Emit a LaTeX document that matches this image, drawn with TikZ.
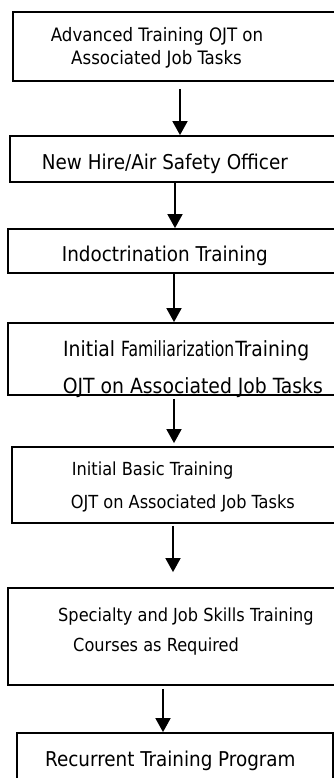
\documentclass[tikz,border=0pt]{standalone}
\usepackage{fontspec}
\setmainfont{DejaVu Sans Condensed}
\usepackage{graphicx}
\usetikzlibrary{arrows.meta}

\tikzset{
  stagebox/.style={draw, rectangle, line width=1.8pt, inner sep=0pt},
  flow/.style={line width=1.8pt, -{Triangle[length=14pt,width=15pt]}},
  txt/.style={anchor=base west, inner sep=0pt},
  bigtxt/.style={txt, font=\fontsize{20.4}{24}\selectfont},
  smalltxt/.style={txt, font=\fontsize{18}{21}\selectfont}
}

\begin{document}
\begin{tikzpicture}[x=1pt,y=-1pt]
\useasboundingbox (0,0) rectangle (334,778);
\clip (0,0) rectangle (334,778);

% boxes run off the right edge of the page
\node [stagebox, minimum width=327, minimum height=69] (sys1) at (176.5,46.5) {};
\node [stagebox, minimum width=330, minimum height=46] (sys2) at (175,159) {};
\node [stagebox, minimum width=332, minimum height=44] (sys3) at (174,251) {};
\node [stagebox, minimum width=332, minimum height=72] (sys4) at (174,359) {};
\node [stagebox, minimum width=328, minimum height=76] (sys5) at (176,485) {};
\node [stagebox, minimum width=332, minimum height=97] (sys6) at (174,636.5) {};
\node [stagebox, minimum width=316, minimum height=62] (sys7) at (175,764) {};

\node [smalltxt, font=\fontsize{18.5}{22}\selectfont] (t1a) at (50.7,41.7) {Advanced Training OJT on};
\node [smalltxt, font=\fontsize{18.5}{22}\selectfont] (t1b) at (71,65) {Associated Job Tasks};
\node [bigtxt] (t2) at (41.7,170) {New Hire/Air Safety Officer};
\node [bigtxt] (t3) at (61.7,261.7) {Indoctrination Training};
\node [bigtxt, font=\fontsize{20.9}{24}\selectfont] (t4a) at (63,356) {Initial \scalebox{0.83}[1]{Familiarization}\kern1pt Training};
\node [bigtxt, font=\fontsize{20.9}{24}\selectfont] (t4b) at (62.7,393.3) {OJT on Associated Job Tasks};
\node [smalltxt] (t5a) at (71.7,475.7) {Initial Basic Training};
\node [smalltxt] (t5b) at (70.7,508.3) {OJT on Associated Job Tasks};
\node [smalltxt] (t6a) at (58,621.7) {Specialty and Job Skills Training};
\node [smalltxt] (t6b) at (73,651.7) {Courses as Required};
\node [bigtxt] (t7) at (45,766.7) {Recurrent Training Program};

%   \draw [flow] (sys1) -- (sys2);
\draw [flow, shorten <=7pt] (sys1.south -| 180,0) to (sys2.north -| 180,0);
\draw [flow] (sys2.south -| 175,0) to (sys3.north -| 175,0);
\draw [flow] (sys3.south -| 174,0) to (sys4.north -| 174,0);
\draw [flow, shorten <=3pt, shorten >=3pt] (sys4.south -| 174,0) to (sys5.north -| 174,0);
\draw [flow, shorten <=2pt, shorten >=15pt] (sys5.south -| 173,0) to (sys6.north -| 173,0);
\draw [flow, shorten <=3pt] (sys6.south -| 163,0) to (sys7.north -| 163,0);

\end{tikzpicture}
\end{document}
